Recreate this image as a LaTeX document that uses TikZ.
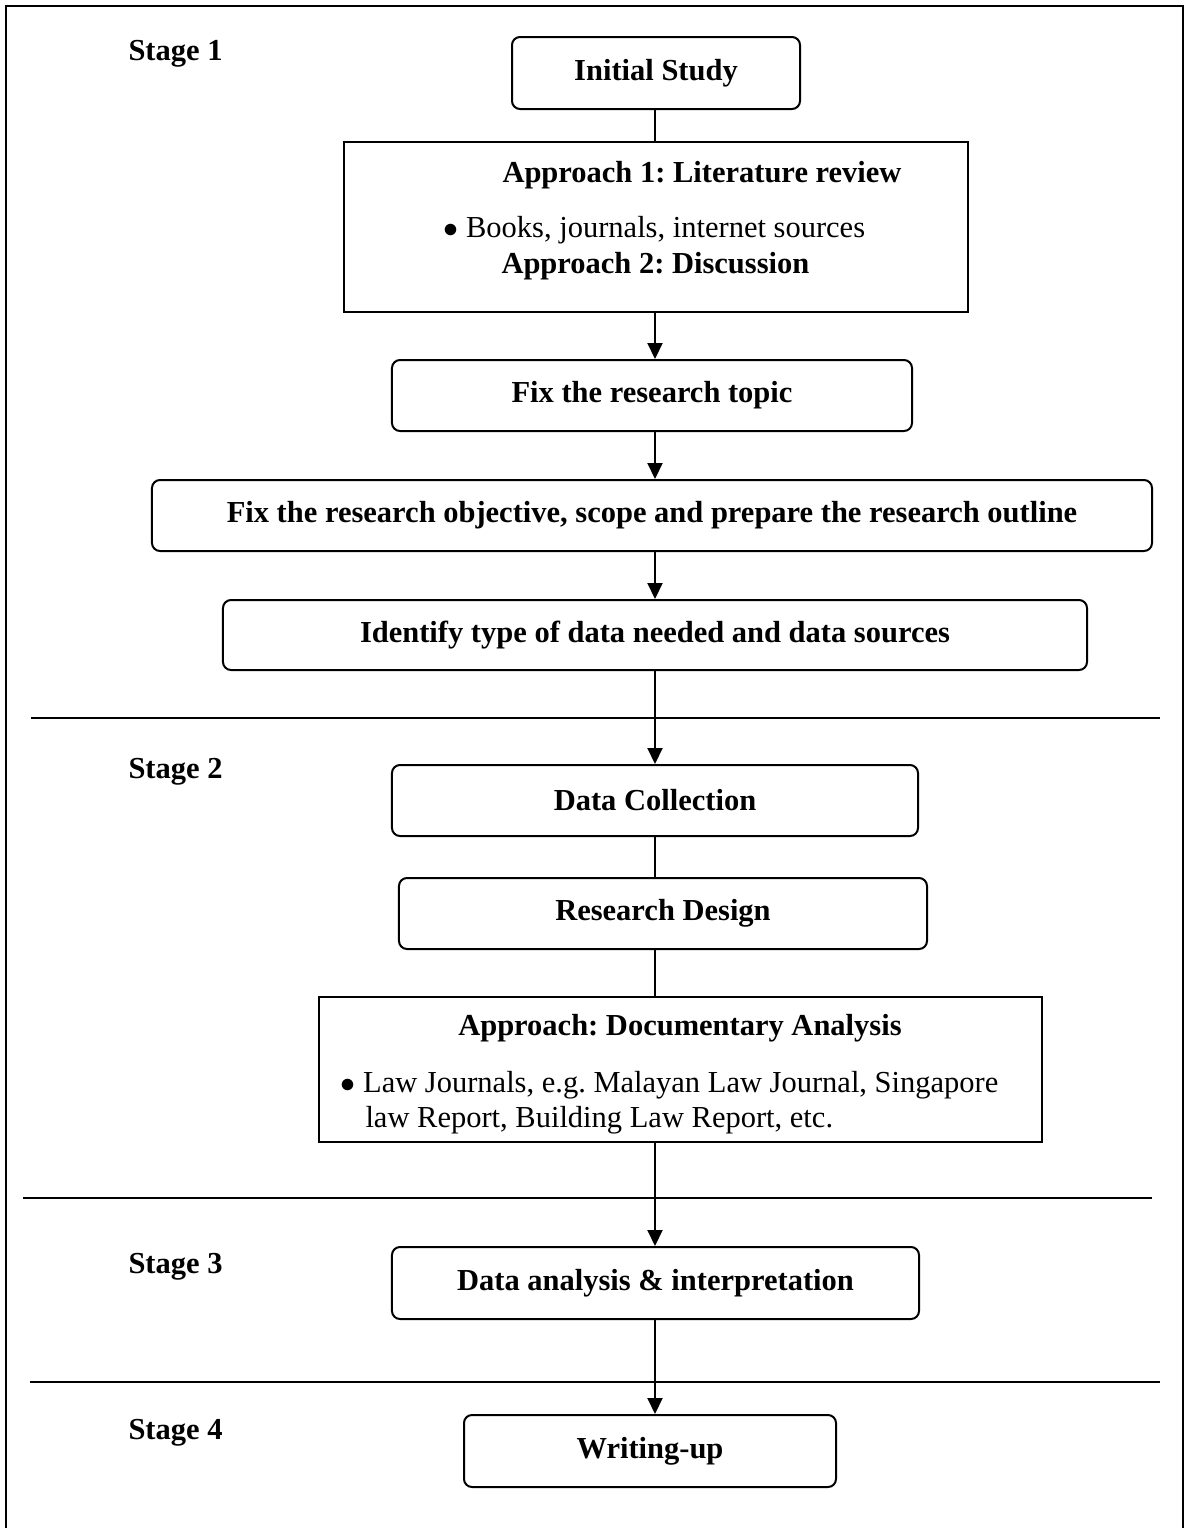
\documentclass[tikz,border=0pt]{standalone}
\usepackage{fontspec}
\setmainfont{Liberation Serif}
\usetikzlibrary{arrows.meta}
\frenchspacing
\tikzset{
  rbox/.style={draw, line width=0.8pt, rounded corners=3.2pt, inner sep=0pt},
  sbox/.style={draw, line width=0.8pt, inner sep=0pt},
  txt/.style={inner sep=0pt, font=\fontsize{12.2}{14}\selectfont\bfseries},
  rtxt/.style={inner sep=0pt, font=\fontsize{12.2}{14}\selectfont},
  stagelbl/.style={inner sep=0pt, anchor=base west, font=\fontsize{12.2}{14}\selectfont\bfseries},
  conn/.style={line width=0.8pt},
  arr/.style={line width=0.8pt, -{Triangle[width=6pt,length=6.4pt]}},
  sep/.style={line width=0.8pt}
}
\begin{document}
\begin{tikzpicture}[x=0.4pt, y=-0.4pt]
\useasboundingbox (0,0) rectangle (1186,1528);
% frame
\draw[line width=1pt] (6,1540) -- (6,6) -- (1183,6) -- (1183,1540);
% separators
\draw[sep] (31,718) -- (1160,718);
\draw[sep] (23,1198) -- (1152,1198);
\draw[sep] (30,1382) -- (1160,1382);
% spine
\coordinate (sp) at (655,0);
% stage labels
\node[stagelbl] (s1) at (128,60) {Stage 1};
\node[stagelbl] (s2) at (128,778) {Stage 2};
\node[stagelbl] (s3) at (128,1273) {Stage 3};
\node[stagelbl] (s4) at (128,1439) {Stage 4};
% boxes
\node[rbox, minimum width=115.2pt, minimum height=28.8pt, txt] (init) at (656,73) {Initial Study};
\node[sbox, minimum width=249.6pt, minimum height=68pt] (appr) at (656,227) {};
\node[txt, anchor=base west] (a1) at (502,182) {Approach 1: Literature review};
\node[rtxt, anchor=base west] (a1b) at (443,237) {$\bullet$ Books, journals, internet sources};
\node[txt, anchor=base west] (a2) at (501,273) {Approach 2: Discussion};
\node[rbox, minimum width=208pt, minimum height=28.4pt, txt] (topic) at (652,395.5) {Fix the research topic};
\node[rbox, minimum width=400pt, minimum height=28.4pt, txt] (obj) at (652,515.5) {Fix the research objective, scope and prepare the research outline};
\node[rbox, minimum width=345.6pt, minimum height=28pt, txt] (ident) at (655,635) {Identify type of data needed and data sources};
\node[rbox, minimum width=210.4pt, minimum height=28.4pt, txt] (dcol) at (655,800.5) {Data Collection};
\node[rbox, minimum width=211.2pt, minimum height=28.4pt, txt] (des) at (663,913.5) {Research Design};
\node[sbox, minimum width=289.2pt, minimum height=58pt] (doc) at (680.5,1069.5) {};
\node[txt, anchor=base] (d1) at (680,1035) {Approach: Documentary Analysis};
\node[rtxt, anchor=base west] (d2) at (340,1092) {$\bullet$ Law Journals, e.g. Malayan Law Journal, Singapore};
\node[rtxt, anchor=base west] (d3) at (365,1127) {law Report, Building Law Report, etc.};
\node[rbox, minimum width=210.8pt, minimum height=28.8pt, txt] (ana) at (655.5,1283) {Data analysis \& interpretation};
\node[rbox, minimum width=148.8pt, minimum height=28.8pt, txt] (wri) at (650,1451) {Writing-up};
% connectors
\draw[conn] (init.south -| sp) -- (appr.north -| sp);
\draw[arr] (appr.south -| sp) -- (topic.north -| sp);
\draw[arr] (topic.south -| sp) -- (obj.north -| sp);
\draw[arr] (obj.south -| sp) -- (ident.north -| sp);
\draw[arr] (ident.south -| sp) -- (dcol.north -| sp);
\draw[conn] (dcol.south -| sp) -- (des.north -| sp);
\draw[conn] (des.south -| sp) -- (doc.north -| sp);
\draw[arr] (doc.south -| sp) -- (ana.north -| sp);
\draw[arr] (ana.south -| sp) -- (wri.north -| sp);
\end{tikzpicture}
\end{document}
